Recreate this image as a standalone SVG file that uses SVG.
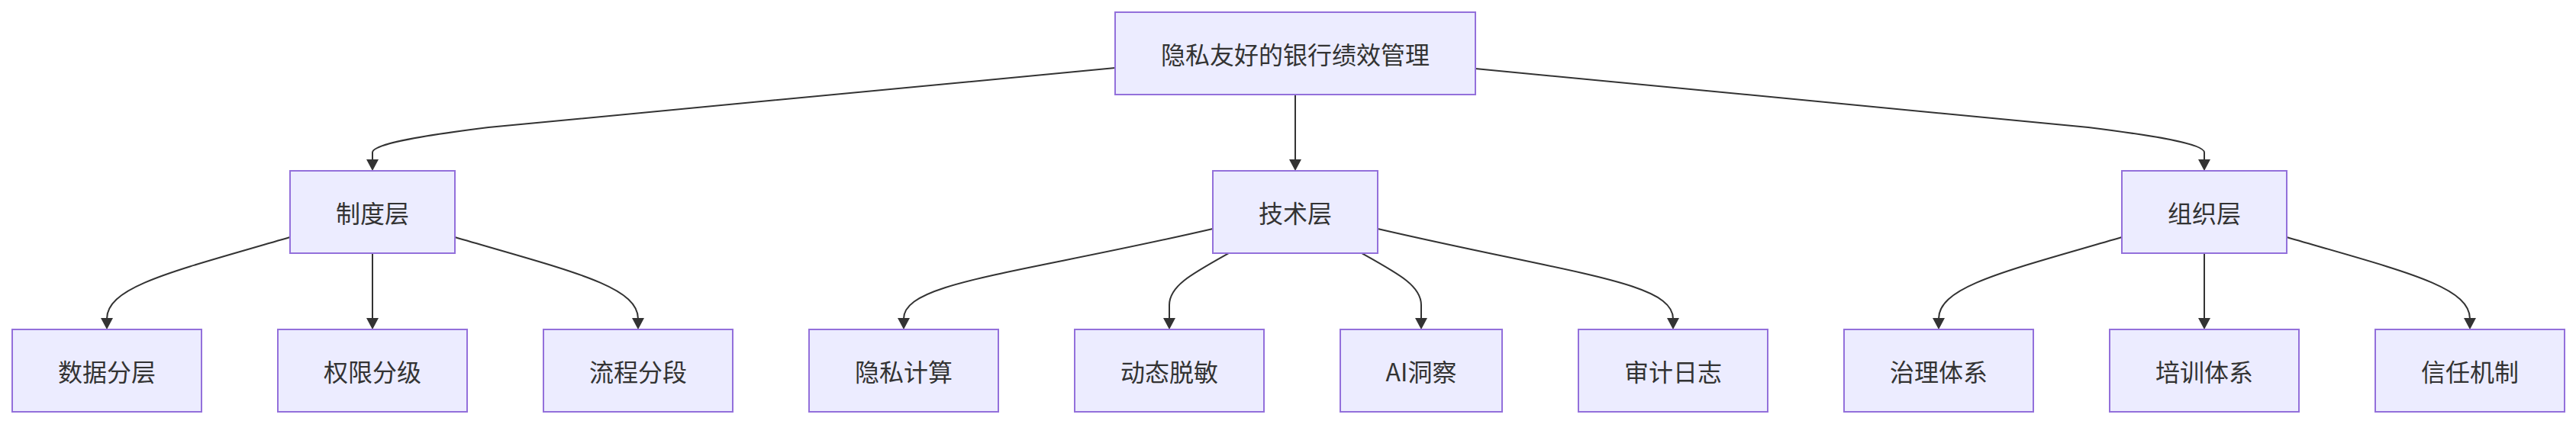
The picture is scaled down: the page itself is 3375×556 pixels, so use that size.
<svg xmlns="http://www.w3.org/2000/svg" width="3375" height="556" viewBox="0 0 3375 556">
<style>
.node rect{fill:#ECECFF;stroke:#9370DB;stroke-width:2}
.node text{font-family:"Noto Sans CJK SC","Noto Sans",sans-serif;font-size:32px;fill:#333;text-anchor:middle;dominant-baseline:central}
.edges path{fill:none;stroke:#333;stroke-width:2;marker-end:url(#arrow)}
</style>
<defs>
<marker id="arrow" markerUnits="userSpaceOnUse" viewBox="0 0 15 16" markerWidth="15" markerHeight="16" refX="1" refY="8" orient="auto">
<path d="M0,0 L15,8 L0,16 z" fill="#333"/>
</marker>
</defs>
<rect width="3375" height="556" fill="#fff"/>
<g class="edges" id="connectors">
<path d="M1461,89 L640,167 C560,177 488,188 488,200 L488,210"/>
<path d="M1697,124 L1697,210"/>
<path d="M1933,90 L2736,167 C2816,177 2888,188 2888,200 L2888,210"/>
<path d="M380,311 C230,355 140,375 140,418"/>
<path d="M488,332 L488,418"/>
<path d="M596,311 C746,355 836,375 836,418"/>
<path d="M1589,300 C1330,360 1184,370 1184,418"/>
<path d="M1610,332 C1560,360 1532,375 1532,400 L1532,418"/>
<path d="M1784,332 C1834,360 1862,375 1862,400 L1862,418"/>
<path d="M1805,300 C2064,360 2192,370 2192,418"/>
<path d="M2780,311 C2630,355 2540,375 2540,418"/>
<path d="M2888,332 L2888,418"/>
<path d="M2996,311 C3146,355 3236,375 3236,418"/>
</g>
<g class="node" id="root"><rect x="1461" y="16" width="472" height="108"/><text x="1697" y="70">隐私友好的银行绩效管理</text></g>
<g class="node" id="zhidu"><rect x="380" y="224" width="216" height="108"/><text x="488" y="278">制度层</text></g>
<g class="node" id="jishu"><rect x="1589" y="224" width="216" height="108"/><text x="1697" y="278">技术层</text></g>
<g class="node" id="zuzhi"><rect x="2780" y="224" width="216" height="108"/><text x="2888" y="278">组织层</text></g>
<g class="node" id="n1"><rect x="16" y="432" width="248" height="108"/><text x="140" y="486">数据分层</text></g>
<g class="node" id="n2"><rect x="364" y="432" width="248" height="108"/><text x="488" y="486">权限分级</text></g>
<g class="node" id="n3"><rect x="712" y="432" width="248" height="108"/><text x="836" y="486">流程分段</text></g>
<g class="node" id="n4"><rect x="1060" y="432" width="248" height="108"/><text x="1184" y="486">隐私计算</text></g>
<g class="node" id="n5"><rect x="1408" y="432" width="248" height="108"/><text x="1532" y="486">动态脱敏</text></g>
<g class="node" id="n6"><rect x="1756" y="432" width="212" height="108"/><text x="1862" y="486">AI洞察</text></g>
<g class="node" id="n7"><rect x="2068" y="432" width="248" height="108"/><text x="2192" y="486">审计日志</text></g>
<g class="node" id="n8"><rect x="2416" y="432" width="248" height="108"/><text x="2540" y="486">治理体系</text></g>
<g class="node" id="n9"><rect x="2764" y="432" width="248" height="108"/><text x="2888" y="486">培训体系</text></g>
<g class="node" id="n10"><rect x="3112" y="432" width="248" height="108"/><text x="3236" y="486">信任机制</text></g>
</svg>
